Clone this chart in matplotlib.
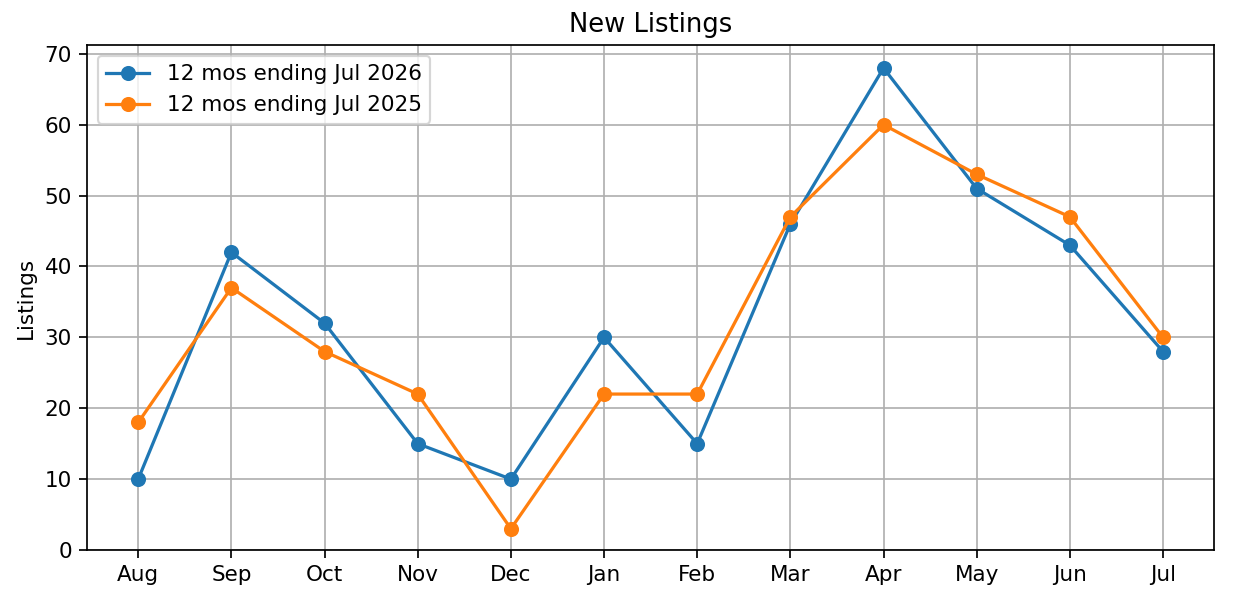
import matplotlib
matplotlib.use("Agg")
import matplotlib.pyplot as plt

months = ["Aug", "Sep", "Oct", "Nov", "Dec", "Jan", "Feb", "Mar", "Apr", "May", "Jun", "Jul"]
listings_2026 = [10, 42, 32, 15, 10, 30, 15, 46, 68, 51, 43, 28]
listings_2025 = [18, 37, 28, 22, 3, 22, 22, 47, 60, 53, 47, 30]

dpi = 155
fig, ax = plt.subplots(figsize=(1234 / dpi, 608 / dpi), dpi=dpi)

ax.plot(months, listings_2026, marker="o", label="12 mos ending Jul 2026")
ax.plot(months, listings_2025, marker="o", label="12 mos ending Jul 2025")

ax.set_ylim(bottom=0)
ax.set_title("New Listings")
ax.set_ylabel("Listings")
ax.grid(True)
ax.legend(loc="upper left")

fig.subplots_adjust(left=0.0705, right=0.984, top=0.926, bottom=0.0954)
fig.savefig("out.png")
